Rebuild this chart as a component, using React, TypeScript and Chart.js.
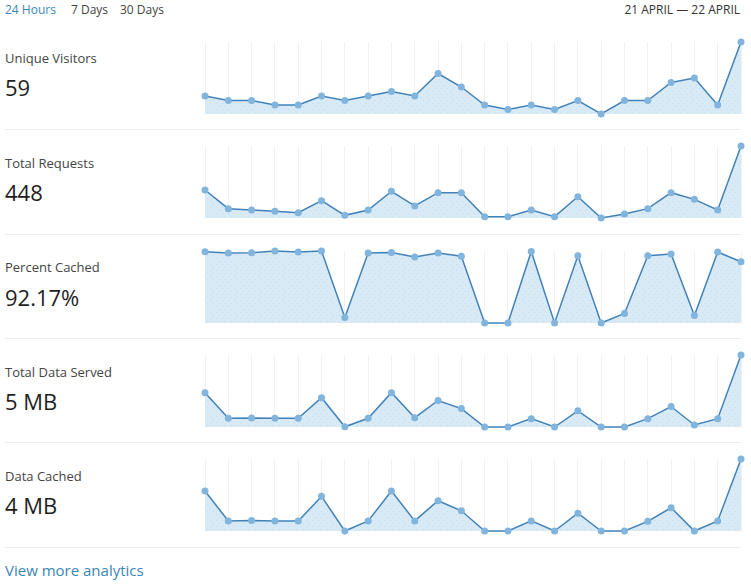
import React, { useEffect, useRef } from "react";
import { Chart, registerables } from "chart.js";

Chart.register(...registerables);

const hours = [
  "00:00", "01:00", "02:00", "03:00", "04:00", "05:00", "06:00", "07:00",
  "08:00", "09:00", "10:00", "11:00", "12:00", "13:00", "14:00", "15:00",
  "16:00", "17:00", "18:00", "19:00", "20:00", "21:00", "22:00", "23:00",
];

const uniqueVisitors = [5, 4, 4, 3, 3, 5, 4, 5, 6, 5, 10, 7, 3, 2, 3, 2, 4, 1, 4, 4, 8, 9, 3, 17];
const totalRequests = [27, 13, 12, 11, 10, 19, 8, 12, 26, 15, 25, 25, 7, 7, 12, 7, 22, 6, 9, 13, 25, 20, 12, 60];
const percentCached = [99.0, 97.2, 97.6, 100, 98.6, 100, 7.6, 97.2, 98.0, 91.6, 97.2, 92.7, 0, 0, 99.4, 0, 93.4, 0, 13.2, 93.4, 95.8, 10.4, 98.6, 85.0];
const totalDataServed = [392, 189, 192, 189, 189, 352, 122, 189, 392, 194, 330, 266, 120, 120, 186, 120, 248, 120, 120, 186, 282, 136, 186, 690];
const dataCached = [367, 160, 162, 160, 160, 330, 90, 160, 367, 160, 300, 230, 90, 90, 160, 90, 213, 90, 90, 157, 251, 90, 160, 589];

const metricLabels = ["Unique Visitors", "Total Requests", "Percent Cached", "Total Data Served", "Data Cached"];
const metricTotals = ["59", "448", "92.17%", "5 MB", "4 MB"];
const metricSeries = [uniqueVisitors, totalRequests, percentCached, totalDataServed, dataCached];

const rangeTabs = ["24 Hours", "7 Days", "30 Days"];
const dateRange = "21 APRIL \u2014 22 APRIL";

const FONT = '"Open Sans", "Noto Sans", sans-serif';
const ROW_CHART_TOPS = [42, 146, 251, 355, 459];
const LABEL_Y = [58, 163, 267, 372, 476];
const VALUE_Y = [87, 192, 297, 401, 505];
const DIVIDERS = [129, 234, 338, 442, 547];
const TAB_X = [5, 71, 120];

function makePattern(): CanvasPattern | string {
  const c = document.createElement("canvas");
  c.width = 6;
  c.height = 6;
  const g = c.getContext("2d");
  if (!g) return "#d9eaf7";
  g.fillStyle = "#d9eaf7";
  g.fillRect(0, 0, 6, 6);
  g.fillStyle = "#c6ddef";
  g.fillRect(0, 0, 1, 1);
  g.fillRect(3, 3, 1, 1);
  const p = g.createPattern(c, "repeat");
  return p || "#d9eaf7";
}

function Spark({ data, top }: { data: number[]; top: number }) {
  const ref = useRef<HTMLCanvasElement | null>(null);
  useEffect(() => {
    if (!ref.current) return;
    const chart = new Chart(ref.current, {
      type: "line",
      data: {
        labels: hours,
        datasets: [
          {
            data,
            borderColor: "#4282b8",
            borderWidth: 1.5,
            backgroundColor: makePattern() as any,
            fill: "start",
            tension: 0,
            pointRadius: 3.5,
            pointBackgroundColor: "#82b5dd",
            pointBorderColor: "#82b5dd",
            pointBorderWidth: 0,
            clip: false as any,
          },
        ],
      },
      options: {
        responsive: false,
        animation: false,
        layout: { padding: { left: 10, right: 10, top: 8, bottom: 8 } },
        plugins: { legend: { display: false }, tooltip: { enabled: false } },
        scales: {
          x: {
            type: "category",
            offset: false,
            display: true,
            ticks: { display: false },
            grid: { color: "#f1f1f1", lineWidth: 1, drawTicks: false },
            border: { display: false },
          },
          y: {
            display: false,
            min: Math.min(...data),
            max: Math.max(...data),
          },
        },
      },
    });
    return () => chart.destroy();
  }, [data]);
  return (
    <canvas
      ref={ref}
      width={556}
      height={88}
      style={{ position: "absolute", left: 195, top: top - 8, width: 556, height: 88 }}
    />
  );
}

export default function App() {
  return (
    <div
      style={{
        position: "absolute",
        left: 0,
        top: 0,
        width: 751,
        height: 588,
        background: "#fff",
        fontFamily: FONT,
        overflow: "hidden",
      }}
    >
      {rangeTabs.map((t, i) => (
        <div
          key={t}
          style={{
            position: "absolute",
            left: TAB_X[i],
            top: 2,
            fontSize: 12,
            lineHeight: "16px",
            color: i === 0 ? "#3a88b8" : "#444",
            whiteSpace: "nowrap",
          }}
        >
          {t}
        </div>
      ))}
      <div
        style={{
          position: "absolute",
          right: 11,
          top: 2,
          fontSize: 12,
          lineHeight: "16px",
          color: "#333",
          whiteSpace: "nowrap",
        }}
      >
        {dateRange}
      </div>
      {metricLabels.map((lab, i) => (
        <React.Fragment key={lab}>
          <div
            style={{
              position: "absolute",
              left: 5,
              top: LABEL_Y[i] - 9,
              fontSize: 13,
              lineHeight: "18px",
              color: "#444",
              whiteSpace: "nowrap",
            }}
          >
            {lab}
          </div>
          <div
            style={{
              position: "absolute",
              left: 5,
              top: VALUE_Y[i] - 15,
              fontSize: 22,
              lineHeight: "30px",
              color: "#1e1e1e",
              whiteSpace: "nowrap",
            }}
          >
            {metricTotals[i]}
          </div>
          <Spark data={metricSeries[i]} top={ROW_CHART_TOPS[i]} />
          <div
            style={{
              position: "absolute",
              left: 5,
              width: 736,
              top: DIVIDERS[i],
              height: 1,
              background: "#eeeeee",
            }}
          />
        </React.Fragment>
      ))}
      <div
        style={{
          position: "absolute",
          left: 5,
          top: 560,
          fontSize: 15,
          lineHeight: "20px",
          color: "#3a86b5",
          whiteSpace: "nowrap",
        }}
      >
        View more analytics
      </div>
    </div>
  );
}
